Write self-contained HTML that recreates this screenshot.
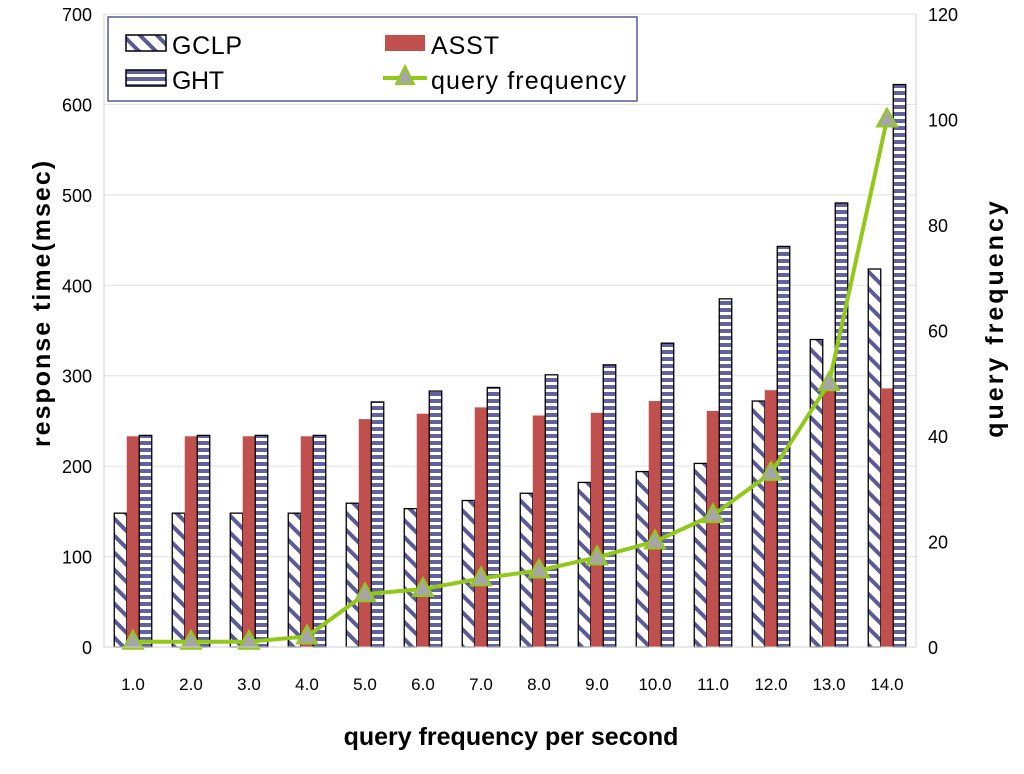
<!DOCTYPE html>
<html><head><meta charset="utf-8"><style>
body{margin:0;background:#fff}
svg{display:block;font-family:"Liberation Sans",sans-serif}
</style></head><body>
<svg id="c" width="1024" height="774">
<defs>
<pattern id="diag" patternUnits="userSpaceOnUse" width="12" height="12" patternTransform="rotate(-45)">
<rect width="12" height="12" fill="#fff"/><rect width="4" height="12" fill="#5a5a96"/></pattern>
<pattern id="horiz" patternUnits="userSpaceOnUse" width="8" height="7">
<rect width="8" height="7" fill="#fff"/><rect width="8" height="4" fill="#62639c"/></pattern>
</defs>
<g id="grid"></g><g id="bars"></g><g id="line"></g><g id="axes"></g>
<g>
<rect x="108" y="17" width="529" height="84" fill="#fff" stroke="#5a5a96" stroke-width="1.5"/>
<rect x="126" y="35" width="40" height="16" fill="url(#diag)" stroke="#000" stroke-width="1.5"/>
<text x="172" y="54" font-size="25" textLength="70">GCLP</text>
<rect x="126" y="70" width="40" height="16" fill="url(#horiz)" stroke="#000" stroke-width="1.5"/>
<text x="172" y="89" font-size="25" textLength="52">GHT</text>
<rect x="385" y="35" width="40" height="16" fill="#c0504d"/>
<text x="431" y="54" font-size="25" textLength="68">ASST</text>
<line x1="383" y1="78" x2="427" y2="78" stroke="#92c81a" stroke-width="4"/>
<polygon points="405,66 396,84 414,84" fill="#a6a6a6" stroke="#92c81a" stroke-width="2"/>
<text x="431" y="89" font-size="25" textLength="195">query frequency</text>
</g>
<text transform="translate(50,303) rotate(-90)" text-anchor="middle" font-size="25" font-weight="bold" letter-spacing="2">response time(msec)</text>
<text transform="translate(1003,318) rotate(-90)" text-anchor="middle" font-size="25" font-weight="bold" letter-spacing="3">query  frequency</text>
<text x="511" y="745" text-anchor="middle" font-size="25" font-weight="bold">query frequency per second</text>
</svg>
<script>
const categories=["1.0","2.0","3.0","4.0","5.0","6.0","7.0","8.0","9.0","10.0","11.0","12.0","13.0","14.0"];
const gclp=[148,148,148,148,159,153,162,170,182,194,203,272,340,418];
const asst=[233,233,233,233,252,258,265,256,259,272,261,284,290,286];
const ght=[234,234,234,234,271,283,287,301,312,336,385,443,491,622];
const qf=[1,1,1,2,10,11,13,14.5,17,20,25,33,50,100];
const leftTicks=[0,100,200,300,400,500,600,700];
const rightTicks=[0,20,40,60,80,100,120];
const NS="http://www.w3.org/2000/svg";
const X0=104,X1=916,Y0=647,Y1=14;
const y=v=>Y0-(v/700)*(Y0-Y1);
const y2=v=>Y0-(v/120)*(Y0-Y1);
const bw=(X1-X0)/categories.length;
const xc=i=>X0+bw*(i+0.5);
function mk(tag,attrs,parent){const e=document.createElementNS(NS,tag);for(const k in attrs)e.setAttribute(k,attrs[k]);document.getElementById(parent).appendChild(e);return e;}
leftTicks.forEach(t=>{
 const g=mk('line',{x1:X0,x2:X1,y1:y(t),y2:y(t),stroke:'#e0e0e0'},'grid');
 
 
 const l=mk('text',{x:92,y:y(t)+7,'text-anchor':'end','font-size':18},'axes');l.textContent=t;
 
 
});
rightTicks.forEach(t=>{
 const l=mk('text',{x:928,y:y2(t)+7,'font-size':18},'axes');l.textContent=t;
 
 
});
mk('line',{x1:X0,x2:X0,y1:Y1,y2:Y0,stroke:'#d0d0d0'},'axes');
mk('line',{x1:X1,x2:X1,y1:Y1,y2:Y0,stroke:'#d0d0d0'},'axes');
mk('line',{x1:X0,x2:X1,y1:Y0,y2:Y0,stroke:'#d0d0d0'},'axes');
const w=12.5;
categories.forEach((c,i)=>{
 const cx=xc(i);
 const a=mk('rect',{x:cx-w*1.5,y:y(gclp[i]),width:w,height:Y0-y(gclp[i]),fill:'url(#diag)',stroke:'#000','stroke-width':1.3},'bars');
 
 
 const b=mk('rect',{x:cx-w*0.5,y:y(asst[i]),width:w,height:Y0-y(asst[i]),fill:'#c0504d'},'bars');
 
 
 const d=mk('rect',{x:cx+w*0.5,y:y(ght[i]),width:w,height:Y0-y(ght[i]),fill:'url(#horiz)',stroke:'#000','stroke-width':1.3},'bars');
 
 
 const t=mk('text',{x:cx,y:690,'text-anchor':'middle','font-size':17},'axes');t.textContent=c;
 
 
});
const p=mk('polyline',{points:qf.map((v,i)=>xc(i)+','+y2(v)).join(' '),fill:'none',stroke:'#92c81a','stroke-width':4},'line');


qf.forEach((v,i)=>{
 const cx=xc(i),cy=y2(v);
 const m=mk('polygon',{points:`${cx},${cy-11} ${cx-10},${cy+7} ${cx+10},${cy+7}`,fill:'#a6a6a6',stroke:'#92c81a','stroke-width':2},'line');
 
 
});
</script>
</body></html>
